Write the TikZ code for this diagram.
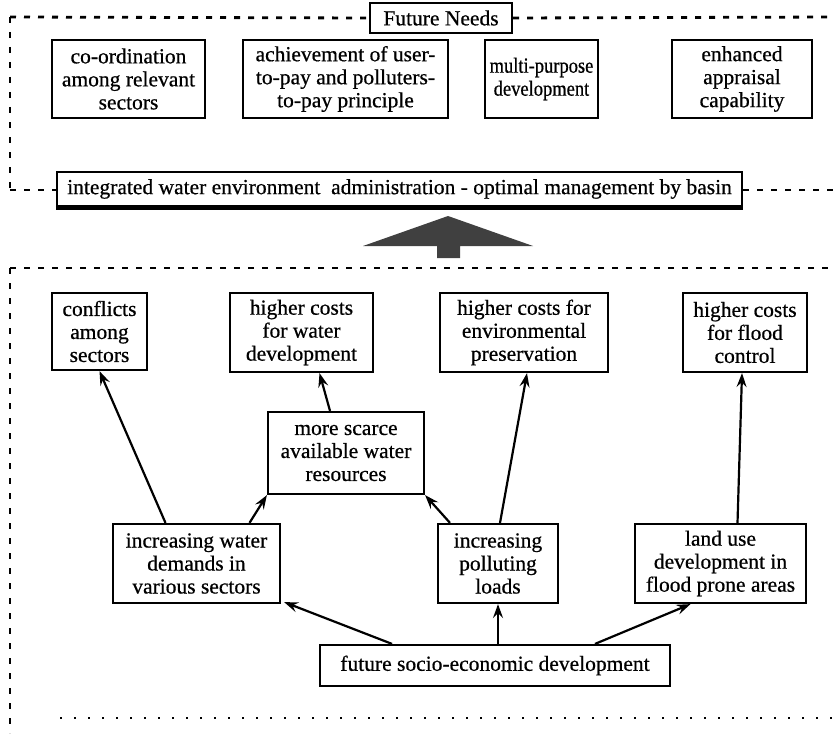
\documentclass[tikz,border=0pt]{standalone}
\usepackage{fontspec}
\setmainfont{Liberation Serif}[FakeBold=0.6]
\usetikzlibrary{arrows.meta,calc}
\newcommand{\narrowtext}[1]{\scalebox{0.86}[1]{#1}}
\begin{document}
\begin{tikzpicture}[x=1pt,y=-1pt,
  box/.style={draw,line width=2.2pt,inner sep=0pt,align=center,
    font=\fontsize{21.5}{23}\selectfont},
  frame/.style={line width=2.8pt,dash pattern=on 6pt off 8pt},
  vframe/.style={line width=2.8pt,dash pattern=on 6pt off 9pt},
  link/.style={line width=2.2pt,-{Stealth[length=14pt,width=10pt,inset=5pt]}}]
\useasboundingbox (0,0) rectangle (834,733);
% top frame
\node[box,minimum width=142pt,minimum height=30pt] (fn) at (441,18) {Future Needs};
\node[box,minimum width=153pt,minimum height=78pt] (co) at (128.5,79) {co-ordination\\among relevant\\sectors};
\node[box,minimum width=205pt,minimum height=78pt] (ach) at (345.5,79) {achievement of user-\\to-pay and polluters-\\to-pay principle};
\node[box,minimum width=113pt,minimum height=78pt] (mp) at (541.5,79) {\narrowtext{multi-purpose}\\\narrowtext{development}};
\node[box,minimum width=140pt,minimum height=78pt] (ea) at (742,79) {enhanced\\appraisal\\capability};
\node[box,minimum width=685pt,minimum height=34pt] (iw) at (399.5,189) {integrated water environment\ \ administration - optimal management by basin};
\draw[line width=3.5pt] ([yshift=-1pt]iw.south west) -- ([yshift=-1pt]iw.south east);
\coordinate (tl) at (10,17);
\coordinate (tr) at (834,17);
\coordinate (bl) at (10,190);
\coordinate (br) at (834,190);
\draw[frame] (tl) -- (fn.west);
\draw[frame] (fn.east) -- (tr);
\draw[vframe] (tl) -- (bl);
\draw[frame] (bl) -- (iw.west |- bl);
\draw[frame] (iw.east |- br) -- (br);
% big arrow
\fill[black!75] (448,216) -- (533,246) -- (460,246) -- (460,258) -- (437,258) -- (437,246) -- (363,246) -- cycle;
% bottom frame
\coordinate (btl) at (10,268);
\coordinate (btr) at (834,268);
\coordinate (bbl) at (10,733);
\coordinate (bbl2) at (60,718);
\coordinate (bbr) at (834,718);
\draw[frame] (btl) -- (btr);
\draw[vframe] (btl) -- (bbl);
\draw[line width=1.2pt,dash pattern=on 2pt off 12pt] (bbl2) -- (bbr);
% row 2
\node[box,minimum width=95pt,minimum height=77pt] (cf) at (99.5,331.5) {conflicts\\among\\sectors};
\node[box,minimum width=143pt,minimum height=79pt] (hw) at (301.5,332.5) {higher costs\\for water\\development};
\node[box,minimum width=168pt,minimum height=79pt] (he) at (524,332.5) {higher costs for\\environmental\\preservation};
\node[box,minimum width=124pt,minimum height=79pt] (hf) at (745,332.5) {higher costs\\for flood\\control};
\node[box,minimum width=156pt,minimum height=82pt] (ms) at (346,453) {more scarce\\available water\\resources};
\node[box,minimum width=167pt,minimum height=79pt] (iwd) at (196.5,563.5) {increasing water\\demands in\\various sectors};
\node[box,minimum width=120pt,minimum height=79pt] (pl) at (498,563.5) {increasing\\polluting\\loads};
\node[box,minimum width=171pt,minimum height=79pt] (lu) at (720.5,563.5) {land use\\development in\\flood prone areas};
\node[box,minimum width=350pt,minimum height=41pt] (fs) at (495,665.5) {future socio-economic development};
% links
\draw[link] ([xshift=-31pt]iwd.north) -- (cf.south);
\draw[link] ([xshift=53pt]iwd.north) -- (ms.south west);
\draw[link] ([xshift=-48pt]pl.north) -- (ms.south east);
\draw[link] ([xshift=2pt]pl.north) -- ([xshift=3pt]he.south);
\draw[link] ([xshift=-16pt]ms.north) -- ([xshift=18pt]hw.south);
\draw[link] ([xshift=17pt]lu.north) -- ([xshift=-3pt]hf.south);
\draw[link] ([xshift=-103pt]fs.north) -- ([xshift=3pt,yshift=2pt]iwd.south east);
\draw[link] (pl.south |- fs.north) -- (pl.south);
\draw[link] ([xshift=100pt]fs.north) -- ([xshift=-30pt]lu.south);
\end{tikzpicture}
\end{document}
